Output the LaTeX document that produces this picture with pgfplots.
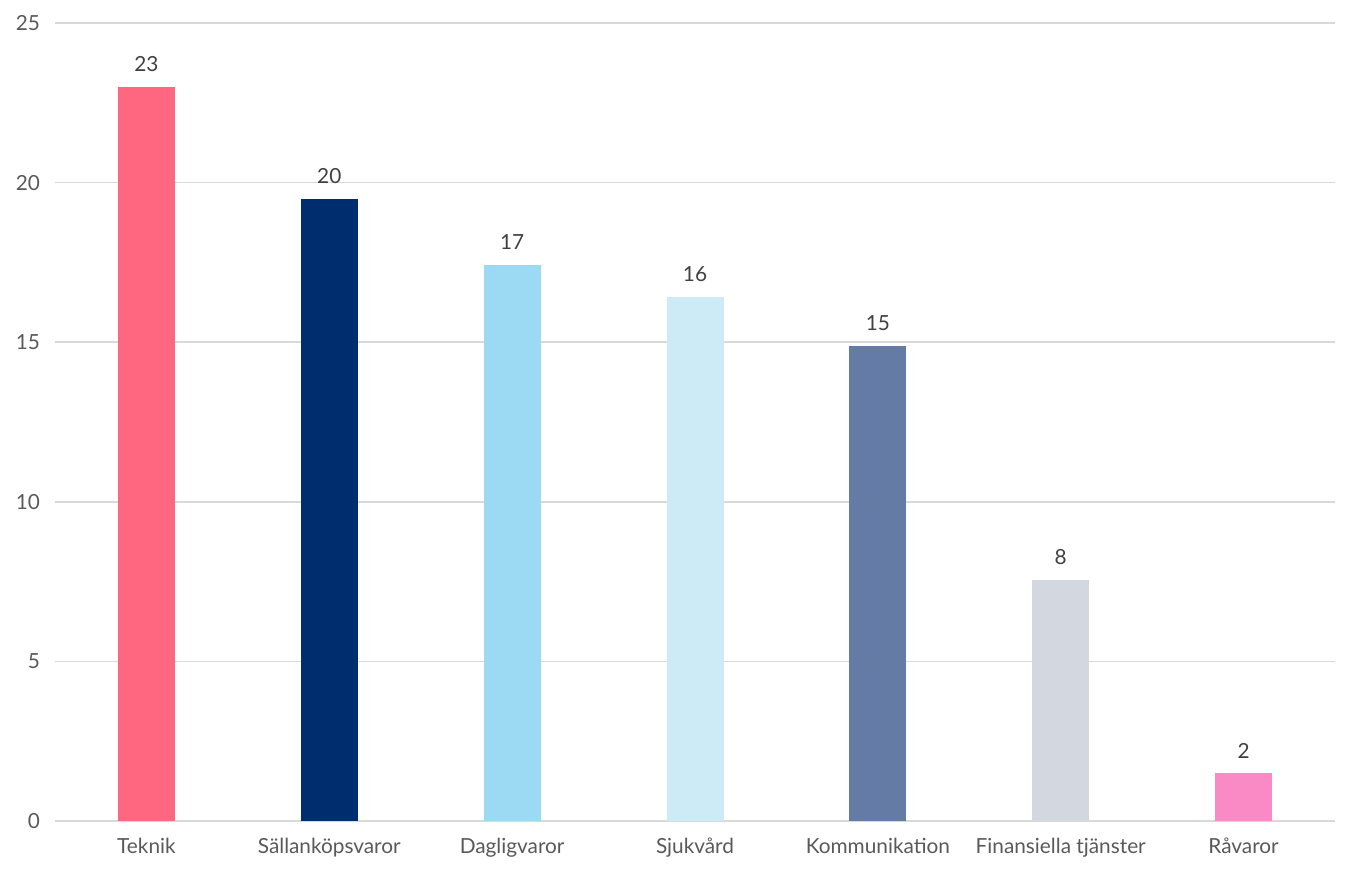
\documentclass[border=0pt]{standalone}
\usepackage{pgfplots}
\pgfplotsset{compat=1.18}
\usepackage{fontspec}
\setmainfont{Lato}
\definecolor{cTek}{HTML}{FF6680}
\definecolor{cSal}{HTML}{002D6E}
\definecolor{cDag}{HTML}{9BDAF2}
\definecolor{cSju}{HTML}{CDEBF7}
\definecolor{cKom}{HTML}{647CA5}
\definecolor{cFin}{HTML}{D3D7E0}
\definecolor{cRav}{HTML}{F98AC5}
\definecolor{gridc}{HTML}{D9D9D9}
\definecolor{txt}{HTML}{595959}
\definecolor{lbl}{HTML}{404040}
\begin{document}
\begin{tikzpicture}[font=\fontsize{10.4pt}{12pt}\selectfont]
\begin{axis}[
  scale only axis,
  width=640pt, height=399pt,
  xmin=-0.5, xmax=6.5, ymin=0, ymax=25,
  ytick={0,5,10,15,20,25},
  xtick={0,1,2,3,4,5,6},
  xticklabels={Teknik,Sällanköpsvaror,Dagligvaror,Sjukvård,Kommunikation,Finansiella tjänster,Råvaror},
  axis x line*=bottom, axis y line*=left,
  x axis line style={gridc, line width=0.8pt},
  y axis line style={draw=none},
  ymajorgrids, grid style={gridc, line width=0.8pt},
  major tick length=0pt,
  tick style={draw=none},
  ticklabel style={text=txt},
  yticklabel style={xshift=-4pt},
  xticklabel style={yshift=-5pt},
  /pgf/number format/assume math mode=true,
  ybar, bar width=28.5pt, bar shift=0pt,
  clip=false,
  nodes near coords,
  point meta=explicit symbolic,
  every node near coord/.append style={text=lbl, yshift=4pt, font=\fontsize{10.4pt}{12pt}\selectfont},
]
\addplot[fill=cTek, draw=none] coordinates {(0,23.0) [23]};
\addplot[fill=cSal, draw=none] coordinates {(1,19.5) [20]};
\addplot[fill=cDag, draw=none] coordinates {(2,17.42) [17]};
\addplot[fill=cSju, draw=none] coordinates {(3,16.42) [16]};
\addplot[fill=cKom, draw=none] coordinates {(4,14.88) [15]};
\addplot[fill=cFin, draw=none] coordinates {(5,7.55) [8]};
\addplot[fill=cRav, draw=none] coordinates {(6,1.5) [2]};
\end{axis}
\path (current axis.south west) ++(-27.5pt,-28pt) rectangle ([xshift=7.5pt,yshift=11.5pt]current axis.north east);
\end{tikzpicture}
\end{document}
